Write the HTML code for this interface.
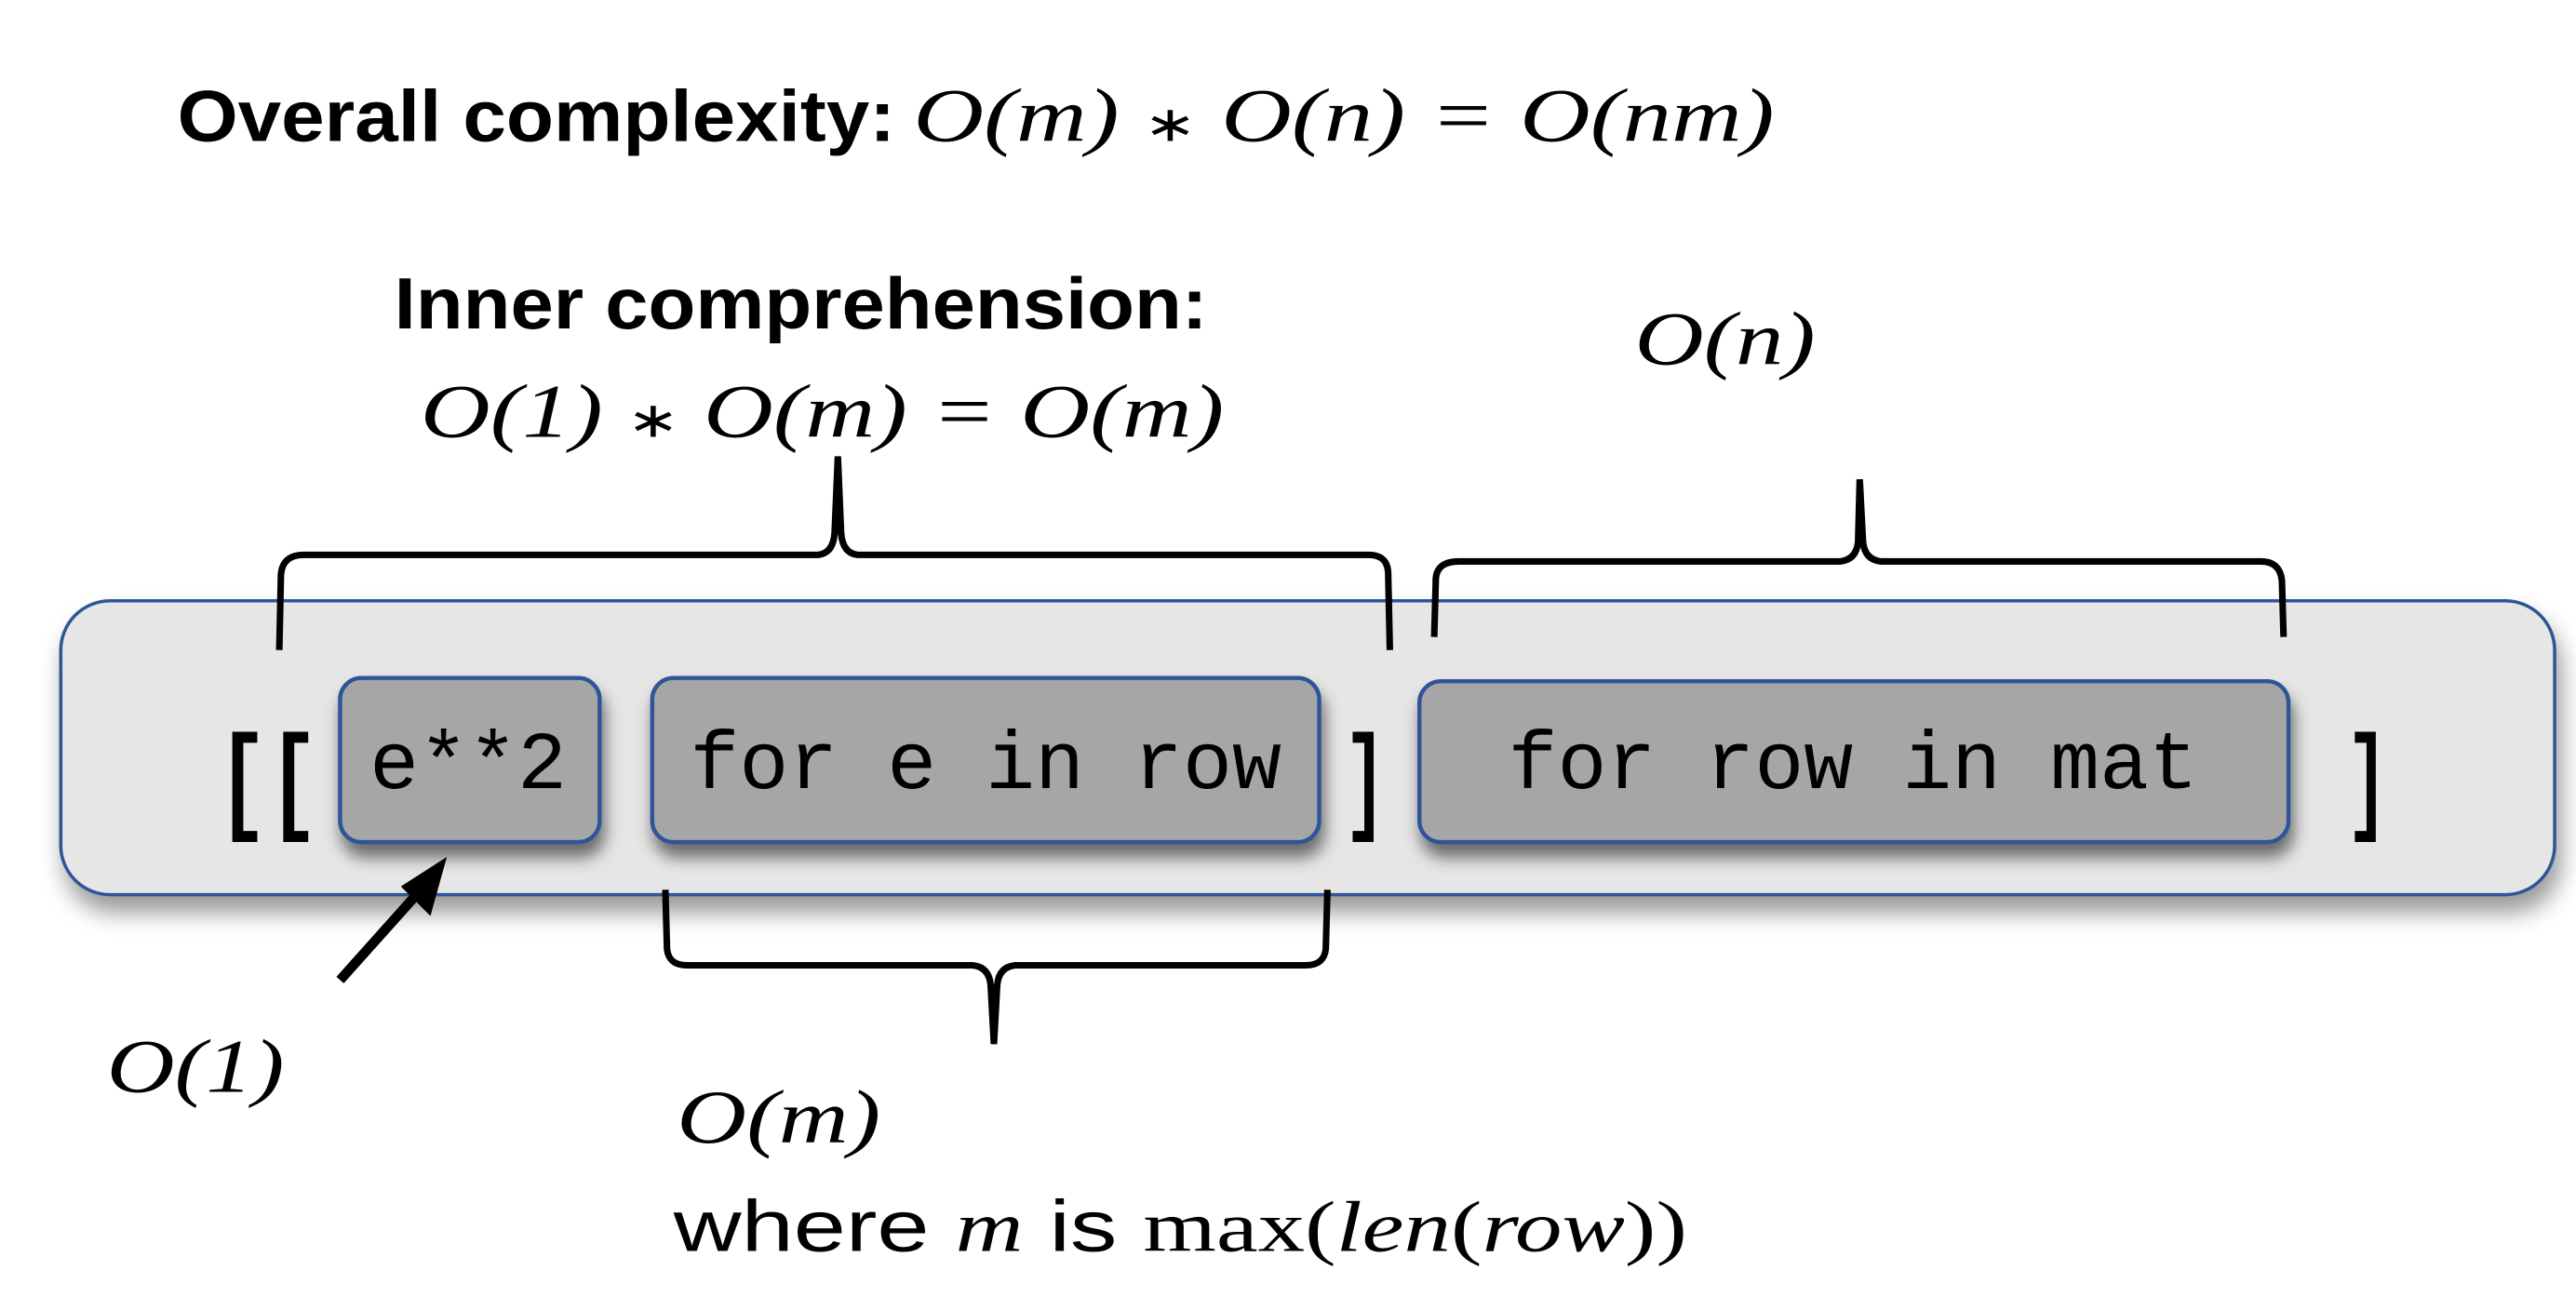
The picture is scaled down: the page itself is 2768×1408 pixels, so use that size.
<!DOCTYPE html>
<html><head><meta charset="utf-8"><style>
html,body{margin:0;padding:0;background:#fff;}
svg{display:block;}
.b{font-family:"Liberation Sans",sans-serif;font-weight:bold;}
.m{font-family:"Liberation Serif",serif;font-style:italic;}
.r{font-family:"Liberation Serif",serif;}
.c{font-family:"Liberation Mono",monospace;}
</style></head><body>
<svg width="2768" height="1408" viewBox="0 0 1568 798" preserveAspectRatio="none" xmlns="http://www.w3.org/2000/svg">
<defs>
<filter id="sh" x="-5%" y="-10%" width="110%" height="140%"><feDropShadow dx="2" dy="8" stdDeviation="5" flood-color="#000" flood-opacity="0.55"/></filter>
<filter id="sh2" x="-5%" y="-10%" width="110%" height="140%"><feDropShadow dx="3" dy="10" stdDeviation="7" flood-color="#000" flood-opacity="0.4"/></filter>
</defs>
<g>
<text class="b" x="108" y="86" font-size="44" textLength="437" lengthAdjust="spacingAndGlyphs">Overall complexity:</text>
<text class="m" x="556" y="86" font-size="46" textLength="524" lengthAdjust="spacingAndGlyphs">O(m) <tspan font-size="30" font-style="normal">∗</tspan> O(n) = O(nm)</text>
</g>
<text class="b" x="240" y="200" font-size="44" textLength="495" lengthAdjust="spacingAndGlyphs">Inner comprehension:</text>
<text class="m" x="256" y="266" font-size="46" textLength="489" lengthAdjust="spacingAndGlyphs">O(1) <tspan font-size="30" font-style="normal">∗</tspan> O(m) = O(m)</text>
<text class="m" x="995" y="222" font-size="46" textLength="110" lengthAdjust="spacingAndGlyphs">O(n)</text>
<rect x="37" y="366" width="1518" height="179" rx="30" fill="#e6e6e6" stroke="#2f5597" stroke-width="2" filter="url(#sh2)"/>
<path d="M170 396 L171 350 Q172 338 185 338 L498 338 Q507 337 508 325 L510 278 L512 325 Q513 337 522 338 L833 338 Q845 338 845 350 L846 396" fill="none" stroke="#000" stroke-width="4"/>
<path d="M873 388 L874 352 Q875 342 888 342 L1120 342 Q1130 341 1131 330 L1132 292 L1134 330 Q1135 341 1145 342 L1376 342 Q1388 342 1389 354 L1390 388" fill="none" stroke="#000" stroke-width="4"/>
<text class="c" x="132" y="498" font-size="72" font-weight="bold" textLength="62" lengthAdjust="spacingAndGlyphs">[[</text>
<g filter="url(#sh)">
<rect x="207" y="413" width="158" height="100" rx="13" fill="#a6a6a6" stroke="#2f5597" stroke-width="2.5"/>
<rect x="397" y="413" width="406" height="100" rx="13" fill="#a6a6a6" stroke="#2f5597" stroke-width="2.5"/>
<rect x="864" y="415" width="529" height="98" rx="13" fill="#a6a6a6" stroke="#2f5597" stroke-width="2.5"/>
</g>
<text class="c" x="225" y="480" font-size="50" textLength="120" lengthAdjust="spacingAndGlyphs">e**2</text>
<text class="c" x="420" y="480" font-size="50" textLength="360" lengthAdjust="spacingAndGlyphs">for e in row</text>
<text class="c" x="918" y="480" font-size="50" textLength="420" lengthAdjust="spacingAndGlyphs">for row in mat</text>
<text class="c" x="818" y="498" font-size="72" font-weight="bold" textLength="26" lengthAdjust="spacingAndGlyphs">]</text>
<text class="c" x="1428" y="498" font-size="72" font-weight="bold" textLength="26" lengthAdjust="spacingAndGlyphs">]</text>
<path d="M405 542 L406 578 Q407 588 418 588 L592 588 Q602 589 603 600 L605 636 L607 600 Q608 589 618 588 L795 588 Q806 588 807 578 L808 542" fill="none" stroke="#000" stroke-width="4"/>
<g>
<line x1="207" y1="597" x2="258" y2="540" stroke="#000" stroke-width="6"/>
<polygon points="272,522 244,540 262,558" fill="#000"/>
</g>
<text class="m" x="65" y="665" font-size="46" textLength="108" lengthAdjust="spacingAndGlyphs">O(1)</text>
<text class="m" x="412" y="696" font-size="46" textLength="124" lengthAdjust="spacingAndGlyphs">O(m)</text>
<text x="410" y="762" font-size="44" textLength="617" lengthAdjust="spacingAndGlyphs"><tspan font-family="Liberation Sans, sans-serif">where </tspan><tspan class="m">m</tspan><tspan font-family="Liberation Sans, sans-serif"> is </tspan><tspan class="r">max(</tspan><tspan class="m">len</tspan><tspan class="r">(</tspan><tspan class="m">row</tspan><tspan class="r">))</tspan></text>
</svg>
</body></html>
